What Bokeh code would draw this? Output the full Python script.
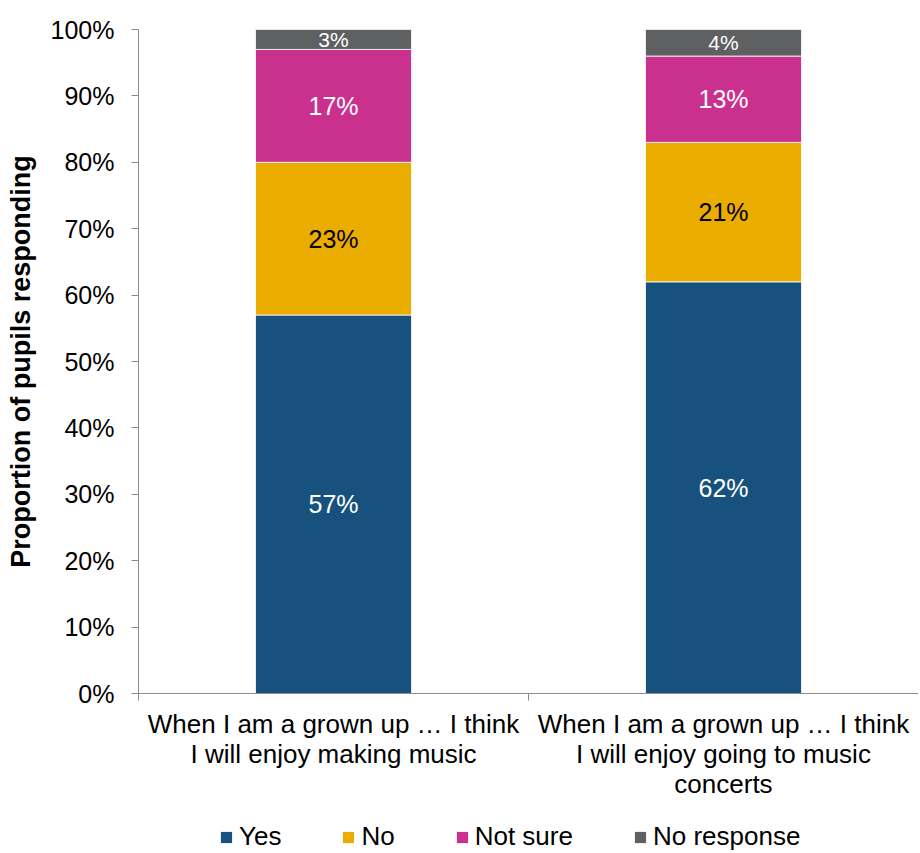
from bokeh.plotting import figure
from bokeh.layouts import column
from bokeh.models import (ColumnDataSource, FixedTicker, PrintfTickFormatter, Range1d,
                          Legend, LegendItem)
from bokeh.core.properties import value
from bokeh.embed import file_html
from bokeh.resources import INLINE

categories = ["When I am a grown up \u2026 I think\nI will enjoy making music",
              "When I am a grown up \u2026 I think\nI will enjoy going to music\nconcerts"]
series_names = ["Yes", "No", "Not sure", "No response"]
yes = [57, 62]
no = [23, 21]
not_sure = [17, 13]
no_response = [3, 4]
colors = ["#17527E", "#EBAC00", "#CA308E", "#5F6062"]
label_colors = ["white", "black", "white", "white"]
y_ticks = [0, 10, 20, 30, 40, 50, 60, 70, 80, 90, 100]

FONT = "Liberation Sans"
xs = [i + 0.5 for i in range(len(categories))]

src = ColumnDataSource(dict(x=xs, yes=yes, no=no, not_sure=not_sure, no_response=no_response))

p = figure(frame_width=780, frame_height=664, output_backend="svg", toolbar_location=None,
           x_range=Range1d(0, len(categories)), y_range=Range1d(0, 100),
           min_border_left=138, min_border_top=29, min_border_right=0, min_border_bottom=0)
p.outline_line_color = None
p.xgrid.visible = False
p.ygrid.visible = False

fields = ["yes", "no", "not_sure", "no_response"]
rs = p.vbar_stack(fields, x="x", width=0.4, source=src, color=colors,
                  line_color="white", line_width=0.8)

# segment labels
series = [yes, no, not_sure, no_response]
lx, ly, lt, lc, ls = [], [], [], [], []
for j in range(len(categories)):
    base = 0
    for k, s in enumerate(series):
        v = s[j]
        lx.append(xs[j])
        ly.append(base + v / 2)
        lt.append(f"{v}%")
        lc.append(label_colors[k])
        ls.append("21px" if v < 5 else "25px")
        base += v
lsrc = ColumnDataSource(dict(x=lx, y=ly, t=lt, c=lc, s=ls))
p.text(x="x", y="y", text="t", source=lsrc, text_color="c", text_font_size="s",
       text_align="center", text_baseline="middle", text_font=value(FONT))

# y axis
p.yaxis.ticker = FixedTicker(ticks=y_ticks)
p.yaxis.formatter = PrintfTickFormatter(format="%d%%")
p.yaxis.major_label_text_font = FONT
p.yaxis.major_label_text_font_size = "25px"
p.yaxis.major_label_text_color = "black"
p.yaxis.axis_line_color = "#8C8C8C"
p.yaxis.major_tick_line_color = "#8C8C8C"
p.yaxis.major_tick_in = 0
p.yaxis.major_tick_out = 7
p.yaxis.minor_tick_line_color = None
p.yaxis.major_label_standoff = 17
p.yaxis.axis_label = "Proportion of pupils responding"
p.yaxis.axis_label_text_font = FONT
p.yaxis.axis_label_text_font_size = "27px"
p.yaxis.axis_label_text_font_style = "bold"
p.yaxis.axis_label_text_color = "black"
p.yaxis.axis_label_standoff = 12

# x axis
p.xaxis.ticker = FixedTicker(ticks=xs, minor_ticks=list(range(len(categories) + 1)))
p.xaxis.major_label_overrides = {x: c for x, c in zip(xs, categories)}
p.xaxis.major_label_text_font = FONT
p.xaxis.major_label_text_font_size = "26px"
p.xaxis.major_label_text_color = "black"
p.xaxis.major_label_text_line_height = 1.0
p.xaxis.axis_line_color = "#8C8C8C"
p.xaxis.major_tick_line_color = None
p.xaxis.minor_tick_line_color = "#8C8C8C"
p.xaxis.minor_tick_in = 0
p.xaxis.minor_tick_out = 7
p.xaxis.major_label_standoff = 8

# legend strip (zero-size proxy bars only feed the legend swatches)
lg = figure(width=918, height=51, output_backend="svg", toolbar_location=None,
            x_range=Range1d(0, 1), y_range=Range1d(0, 1),
            x_axis_type=None, y_axis_type=None, min_border=0)
lg.outline_line_color = None
lg.xgrid.visible = False
lg.ygrid.visible = False
lrs = [lg.vbar(x=[0], top=[0], bottom=[0], width=0, fill_color=c, line_alpha=0)
       for c in colors]
legend = Legend(items=[LegendItem(label=n, renderers=[r]) for n, r in zip(series_names, lrs)],
                orientation="horizontal", location=(81, 0))
legend.label_text_font = FONT
legend.label_text_font_size = "26px"
legend.label_text_color = "black"
legend.glyph_width = 14
legend.glyph_height = 14
legend.spacing = 60
legend.label_standoff = 6
legend.border_line_color = None
legend.background_fill_alpha = 0
legend.padding = 0
legend.margin = 0
lg.add_layout(legend, "center")

layout = column(p, lg, spacing=0)
open("out.html", "w").write(file_html(layout, INLINE))
